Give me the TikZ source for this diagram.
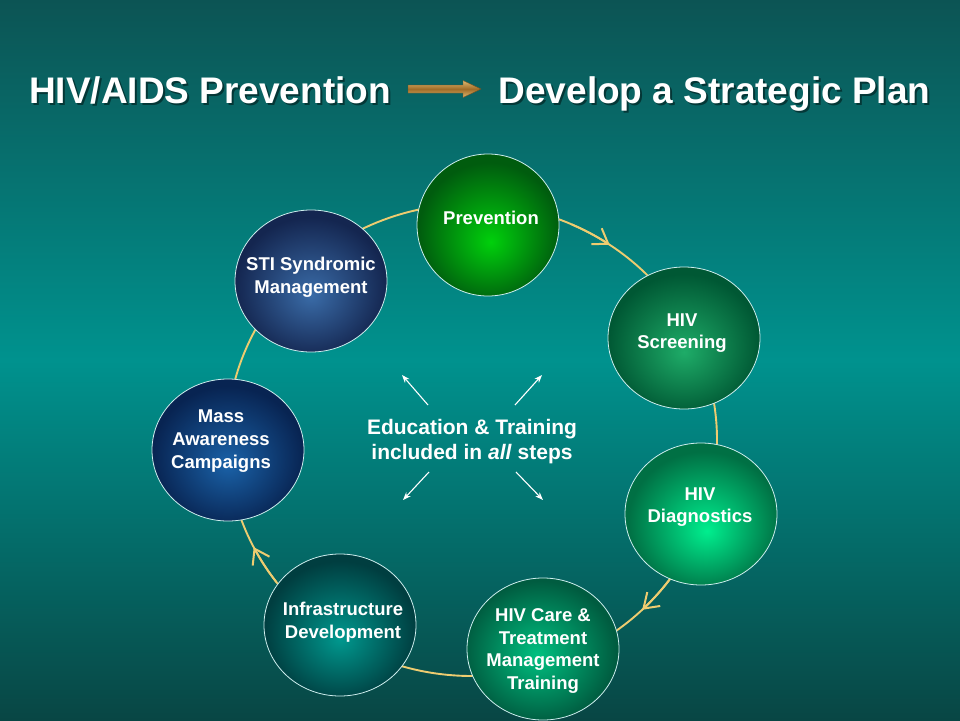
\documentclass[tikz,border=0pt]{standalone}
\usepackage{fontspec}
\setmainfont{Liberation Sans}
\usetikzlibrary{shapes.geometric,arrows.meta,calc}

\definecolor{bgTop}{RGB}{12,84,84}
\definecolor{bgMid}{RGB}{0,146,142}
\definecolor{bgBot}{RGB}{8,70,68}
\definecolor{ringC}{RGB}{238,204,112}
\definecolor{bubBorder}{RGB}{205,238,238}
\definecolor{arrLt}{RGB}{222,184,112}
\definecolor{arrDk}{RGB}{160,108,40}
\definecolor{arrEdge}{RGB}{120,80,30}

\definecolor{prevIn}{RGB}{0,208,12}
\definecolor{prevOut}{RGB}{0,92,14}
\definecolor{scrIn}{RGB}{30,172,104}
\definecolor{scrOut}{RGB}{0,88,52}
\definecolor{diaIn}{RGB}{0,238,142}
\definecolor{diaOut}{RGB}{0,112,68}
\definecolor{careIn}{RGB}{0,192,128}
\definecolor{careOut}{RGB}{0,92,64}
\definecolor{infIn}{RGB}{0,152,142}
\definecolor{infOut}{RGB}{0,62,64}
\definecolor{massIn}{RGB}{26,98,168}
\definecolor{massOut}{RGB}{8,36,82}
\definecolor{stiIn}{RGB}{58,108,168}
\definecolor{stiOut}{RGB}{20,38,80}

\pgfdeclareradialshading{shPrev}{\pgfpoint{1bp}{-6bp}}{color(0bp)=(prevIn); color(25bp)=(prevOut); color(50bp)=(prevOut)}
\pgfdeclareradialshading{shScr}{\pgfpoint{0bp}{-5bp}}{color(0bp)=(scrIn); color(25bp)=(scrOut); color(50bp)=(scrOut)}
\pgfdeclareradialshading{shDia}{\pgfpoint{2bp}{-6bp}}{color(0bp)=(diaIn); color(25bp)=(diaOut); color(50bp)=(diaOut)}
\pgfdeclareradialshading{shCare}{\pgfpoint{-2bp}{-2bp}}{color(0bp)=(careIn); color(25bp)=(careOut); color(50bp)=(careOut)}
\pgfdeclareradialshading{shInf}{\pgfpoint{0bp}{-5bp}}{color(0bp)=(infIn); color(25bp)=(infOut); color(50bp)=(infOut)}
\pgfdeclareradialshading{shMass}{\pgfpoint{0bp}{-5bp}}{color(0bp)=(massIn); color(25bp)=(massOut); color(50bp)=(massOut)}
\pgfdeclareradialshading{shSti}{\pgfpoint{0bp}{-5bp}}{color(0bp)=(stiIn); color(25bp)=(stiOut); color(50bp)=(stiOut)}

\tikzset{
  bub/.style={ellipse, draw=bubBorder, line width=0.8pt, inner sep=0pt,
              minimum width=152pt, minimum height=142pt},
  btxt/.style={text=white, font=\bfseries\fontsize{18.5}{22.7}\selectfont,
               align=center, inner sep=0pt},
  ttl/.style={text=white, font=\bfseries\fontsize{37}{40}\selectfont, inner sep=0pt, anchor=base},
  ttlshadow/.style={text=black, opacity=0.45, font=\bfseries\fontsize{37}{40}\selectfont, inner sep=0pt, anchor=base},
  ctext/.style={text=white, font=\bfseries\fontsize{21}{25}\selectfont, align=center, inner sep=0pt},
  ring/.style={draw=ringC, line width=1.9pt},
  ringtip/.style={ring, -{Straight Barb[length=14pt, width=19pt, line width=2pt]}},
  spoke/.style={draw=white, line width=1.1pt, -{Stealth[length=8pt, width=6pt]}},
}

\begin{document}
\begin{tikzpicture}[x=1pt, y=-1pt]
  \useasboundingbox (0,0) rectangle (960,720);
  \shade[top color=bgTop, bottom color=bgBot, middle color=bgMid] (0,0) rectangle (960,720);

  % title
  \node[ttlshadow] (t1s) at (212,105) {HIV/AIDS Prevention};
  \node[ttlshadow] (t2s) at (716.5,105) {Develop a Strategic Plan};
  \node[ttl] (t1) at (210,103) {HIV/AIDS Prevention};
  \node[ttl] (t2) at (714.5,103) {Develop a Strategic Plan};
  \coordinate (aS) at (408,89);
  \coordinate (aE) at (481,89);
  \shadedraw[top color=arrLt, bottom color=arrLt, middle color=arrDk, draw=arrEdge, line width=0.4pt]
    ($(aS)+(0,-4)$) -- ($(aE)+(-18,-4)$) -- ($(aE)+(-18,-8.5)$) -- (aE)
    -- ($(aE)+(-18,8.5)$) -- ($(aE)+(-18,4)$) -- ($(aS)+(0,4)$) -- cycle;

  % ring
  \coordinate (rc) at (472,440);
  \draw[ring] (rc) ellipse [x radius=245, y radius=236];
  \draw[ringtip] (rc) ++(-66:245 and 236) arc[start angle=-66, end angle=-55.8, x radius=245, y radius=236];
  \draw[ringtip] (rc) ++(36:245 and 236) arc[start angle=36, end angle=46, x radius=245, y radius=236];
  \draw[ringtip] (rc) ++(143:245 and 236) arc[start angle=143, end angle=153, x radius=245, y radius=236];

  % bubbles
  \node[bub, shading=shPrev, minimum width=142pt] (prev) at (488,225) {};
  \node[bub, shading=shScr] (scr) at (684,338) {};
  \node[bub, shading=shDia] (dia) at (701,514) {};
  \node[bub, shading=shCare] (care) at (543,649) {};
  \node[bub, shading=shInf] (inf) at (340,625) {};
  \node[bub, shading=shMass] (mass) at (228,450) {};
  \node[bub, shading=shSti] (sti) at (311,281) {};

  \node[btxt] (prevT) at (491,218) {Prevention};
  \node[btxt] (scrT) at (682,333) {HIV\\Screening};
  \node[btxt] (diaT) at (700,507) {HIV\\Diagnostics};
  \node[btxt] (careT) at (543,651) {HIV Care \&\\Treatment\\Management\\Training};
  \node[btxt] (infT) at (343,622) {Infrastructure\\Development};
  \node[btxt] (massT) at (221,441) {Mass\\Awareness\\Campaigns};
  \node[btxt] (stiT) at (311,277) {STI Syndromic\\Management};

  % centre
  \node[ctext] (ctr) at (472,442) {Education \& Training\\included in \textit{all} steps};
  \coordinate (ul0) at (428,405); \coordinate (ul1) at (402,375);
  \coordinate (ur0) at (515,405); \coordinate (ur1) at (542,375);
  \coordinate (dl0) at (429,472); \coordinate (dl1) at (403,500);
  \coordinate (dr0) at (516,472); \coordinate (dr1) at (543,500);
  \draw[spoke] (ul0) -- (ul1);
  \draw[spoke] (ur0) -- (ur1);
  \draw[spoke] (dl0) -- (dl1);
  \draw[spoke] (dr0) -- (dr1);
\end{tikzpicture}
\end{document}
